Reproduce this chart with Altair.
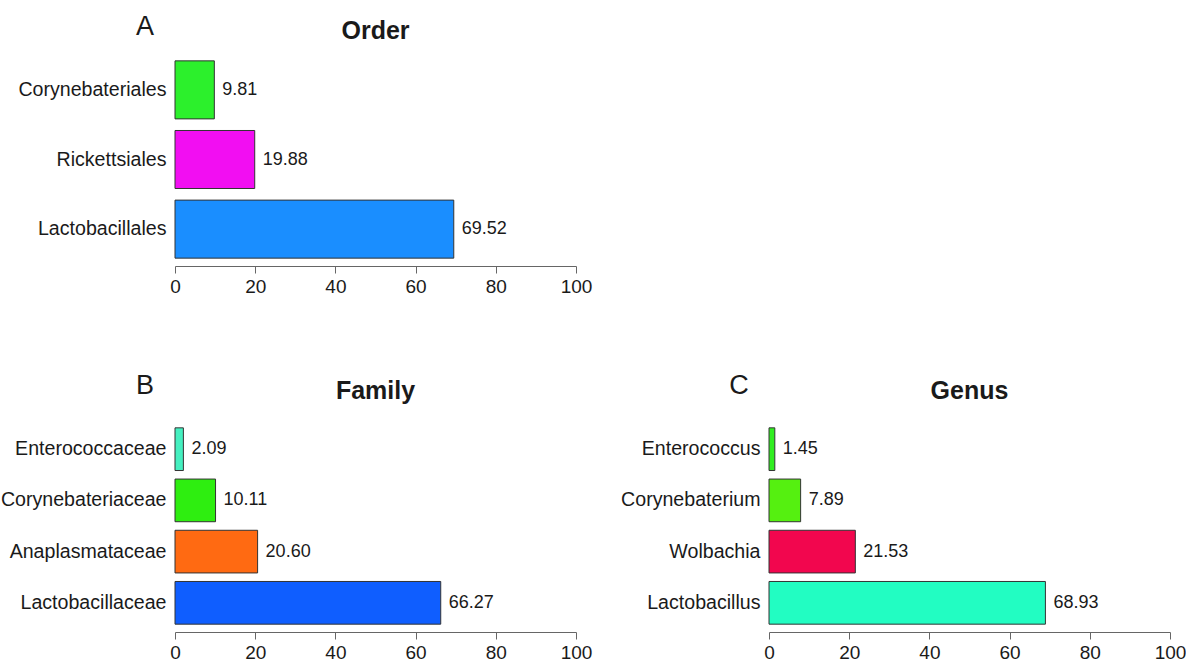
import altair as alt
import pandas as pd

FONT = "Liberation Sans"

ORDER_NAMES = ["Corynebateriales", "Rickettsiales", "Lactobacillales"]
ORDER_VALUES = [9.81, 19.88, 69.52]
ORDER_COLORS = ["#2CF02C", "#F20EF2", "#1A8EFF"]

FAMILY_NAMES = ["Enterococcaceae", "Corynebateriaceae", "Anaplasmataceae", "Lactobacillaceae"]
FAMILY_VALUES = [2.09, 10.11, 20.60, 66.27]
FAMILY_COLORS = ["#45F0C0", "#2EEE10", "#FF6A12", "#0F5EFF"]

GENUS_NAMES = ["Enterococcus", "Corynebaterium", "Wolbachia", "Lactobacillus"]
GENUS_VALUES = [1.45, 7.89, 21.53, 68.93]
GENUS_COLORS = ["#30EE20", "#55F010", "#F2064E", "#22FDC2"]

PANEL_LETTERS = ["A", "B", "C"]
PANEL_TITLES = ["Order", "Family", "Genus"]
X_TICKS = [0, 20, 40, 60, 80, 100]

TEXT_COLOR = "#1a1a1a"
AXIS_COLOR = "#666666"


def panel(names, values, colors, letter, title, height, pad_outer, letter_y, title_y):
    df = pd.DataFrame({"name": names, "value": values, "fill": colors})
    y_enc = alt.Y(
        "name:N", sort=names, title=None,
        scale=alt.Scale(paddingInner=0.2 / 1.2, paddingOuter=pad_outer),
        axis=alt.Axis(ticks=False, domain=False, labelFontSize=19.6, labelPadding=9,
                      labelColor=TEXT_COLOR, labelFont=FONT, labelLimit=0),
    )
    x_enc = alt.X(
        "value:Q", title=None,
        scale=alt.Scale(domain=[0, 100], nice=False, zero=True),
        axis=alt.Axis(values=X_TICKS, grid=False, tickSize=7, labelPadding=4,
                      labelFontSize=19, labelFont=FONT, labelColor=TEXT_COLOR,
                      domainColor=AXIS_COLOR, tickColor=AXIS_COLOR, labelFlush=False),
    )
    base = alt.Chart(df)
    bars = base.mark_bar(stroke="#333333", strokeWidth=1).encode(
        x=x_enc, y=y_enc,
        color=alt.Color("fill:N", scale=None, legend=None),
    )
    vals = base.mark_text(align="left", baseline="middle", dx=8, fontSize=18,
                          font=FONT, color=TEXT_COLOR).encode(
        x="value:Q", y=alt.Y("name:N", sort=names),
        text=alt.Text("value:Q", format=".2f"),
    )
    letter_layer = alt.Chart(pd.DataFrame({"t": [letter]})).mark_text(
        fontSize=27, font=FONT, align="center", baseline="alphabetic", color=TEXT_COLOR
    ).encode(text="t:N", x=alt.value(-30), y=alt.value(letter_y))
    title_layer = alt.Chart(pd.DataFrame({"t": [title]})).mark_text(
        fontSize=25, font=FONT, fontWeight="bold", align="center", baseline="alphabetic",
        color=TEXT_COLOR
    ).encode(text="t:N", x=alt.value(200.5), y=alt.value(title_y))
    return alt.layer(bars, vals, letter_layer, title_layer).properties(width=401, height=height)


pA = panel(ORDER_NAMES, ORDER_VALUES, ORDER_COLORS, PANEL_LETTERS[0], PANEL_TITLES[0],
           213, 0.113, -18, -14)
pB = panel(FAMILY_NAMES, FAMILY_VALUES, FAMILY_COLORS, PANEL_LETTERS[1], PANEL_TITLES[1],
           212, 0.153, -26, -21)
pC = panel(GENUS_NAMES, GENUS_VALUES, GENUS_COLORS, PANEL_LETTERS[2], PANEL_TITLES[2],
           212, 0.153, -26, -21)

chart = alt.vconcat(
    pA,
    alt.hconcat(pB, pC, spacing=193, bounds="flush"),
    spacing=154, bounds="flush",
).configure_view(stroke=None).properties(
    padding={"left": 0, "top": 13, "right": 0, "bottom": 0},
    background="white",
)

chart.save("out.html", embed_options={"renderer": "svg", "actions": False})
